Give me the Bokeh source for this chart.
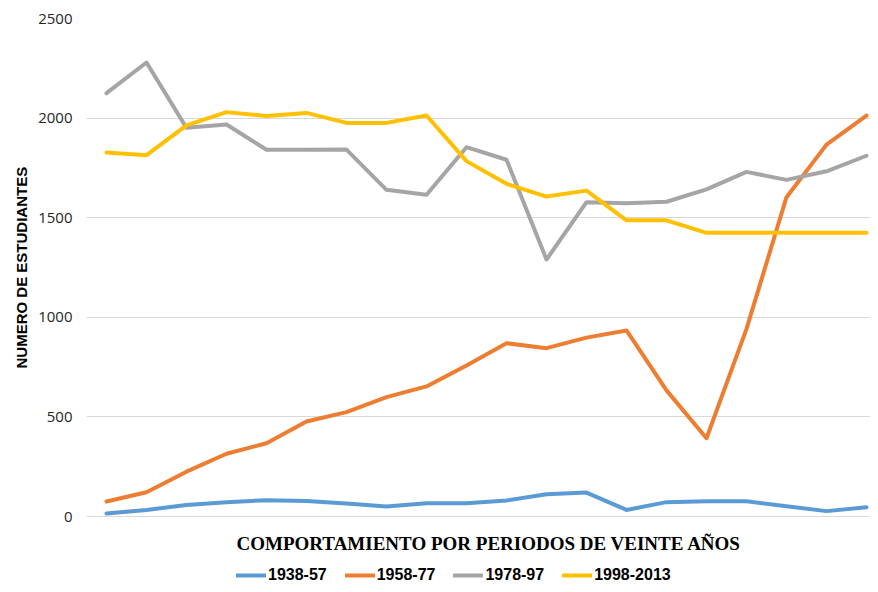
from bokeh.plotting import figure
from bokeh.models import Range1d, Legend, LegendItem, Label, FixedTicker, Title
from bokeh.embed import file_html
from bokeh.resources import INLINE

# ---- data ----
points = list(range(1, 21))
series_names = ["1938-57", "1958-77", "1978-97", "1998-2013"]
s1938_57 = [15, 33, 58, 72, 82, 78, 65, 50, 67, 67, 80, 112, 120, 33, 72, 76, 76, 52, 27, 47]
s1958_77 = [75, 122, 225, 315, 368, 477, 524, 599, 653, 758, 870, 845, 898, 934, 633, 393, 942, 1603, 1867, 2013]
s1978_97 = [2125, 2279, 1951, 1968, 1841, 1841, 1842, 1640, 1615, 1854, 1791, 1290, 1578, 1573, 1580, 1642, 1730, 1690, 1733, 1811]
s1998_2013 = [1827, 1814, 1963, 2030, 2011, 2026, 1976, 1976, 2013, 1784, 1670, 1606, 1636, 1487, 1487, 1424, 1424, 1424, 1424, 1424]
y_ticks = [0, 500, 1000, 1500, 2000, 2500]
colors = ["#5B9BD5", "#ED7D31", "#A5A5A5", "#FFC000"]
y_title = "NUMERO DE ESTUDIANTES"
x_title = "COMPORTAMIENTO POR PERIODOS DE VEINTE AÑOS"

# layout: plot area 86..870 px wide, 2500 at y=18, 0 at y=516; frame extends to the bottom
H = 584
top_px, zero_px = 18, 516
units_per_px = (y_ticks[-1] - y_ticks[0]) / (zero_px - top_px)
y_start = -(H - zero_px) * units_per_px

p = figure(width=870, height=H, output_backend="svg", toolbar_location=None,
           x_range=Range1d(0.5, 20.1), y_range=Range1d(y_start, y_ticks[-1]), x_axis_location=None,
           min_border_left=86, min_border_right=0, min_border_top=top_px, min_border_bottom=0)
p.outline_line_color = None
p.background_fill_color = "white"

p.xgrid.visible = False
p.ygrid.grid_line_color = "#D9D9D9"
p.ygrid.grid_line_width = 1

p.yaxis.ticker = FixedTicker(ticks=y_ticks)
p.yaxis.axis_line_color = None
p.yaxis.major_tick_line_color = None
p.yaxis.minor_tick_line_color = None
p.yaxis.major_tick_out = 0
p.yaxis.major_tick_in = 0
p.yaxis.minor_tick_out = 0
p.yaxis.major_label_text_font = "Open Sans"
p.yaxis.major_label_text_font_size = "15px"
p.yaxis.major_label_text_color = "#262626"
p.yaxis.major_label_standoff = 14

ylab = Title(text=y_title, align="left", offset=H - 368, standoff=11,
             text_font="Liberation Sans", text_font_style="bold", text_font_size="15px",
             text_color="#000000")
p.add_layout(ylab, "left")

renderers = []
for vals, c in zip([s1938_57, s1958_77, s1978_97, s1998_2013], colors):
    r = p.line(points, vals, line_color=c, line_width=4, line_join="round", line_cap="round")
    renderers.append(r)

title_lbl = Label(x=0.5 + 150 / 40, y=-(543 - zero_px) * units_per_px, text=x_title,
                  text_align="left", text_baseline="middle",
                  text_font="Liberation Serif", text_font_style="bold", text_font_size="19px",
                  text_color="#000000")
p.add_layout(title_lbl)

legend = Legend(items=[LegendItem(label=n, renderers=[r]) for n, r in zip(series_names, renderers)],
                orientation="horizontal", location=(150, 0))
legend.glyph_width = 30
legend.glyph_height = 16
legend.label_height = 16
legend.label_standoff = 2
legend.spacing = 18
legend.padding = 0
legend.margin = 0
legend.border_line_color = None
legend.background_fill_alpha = 0
legend.label_text_font = "Liberation Sans"
legend.label_text_font_style = "bold"
legend.label_text_font_size = "16px"
legend.label_text_color = "#000000"
p.add_layout(legend, "center")

open("out.html", "w").write(file_html(p, INLINE))
